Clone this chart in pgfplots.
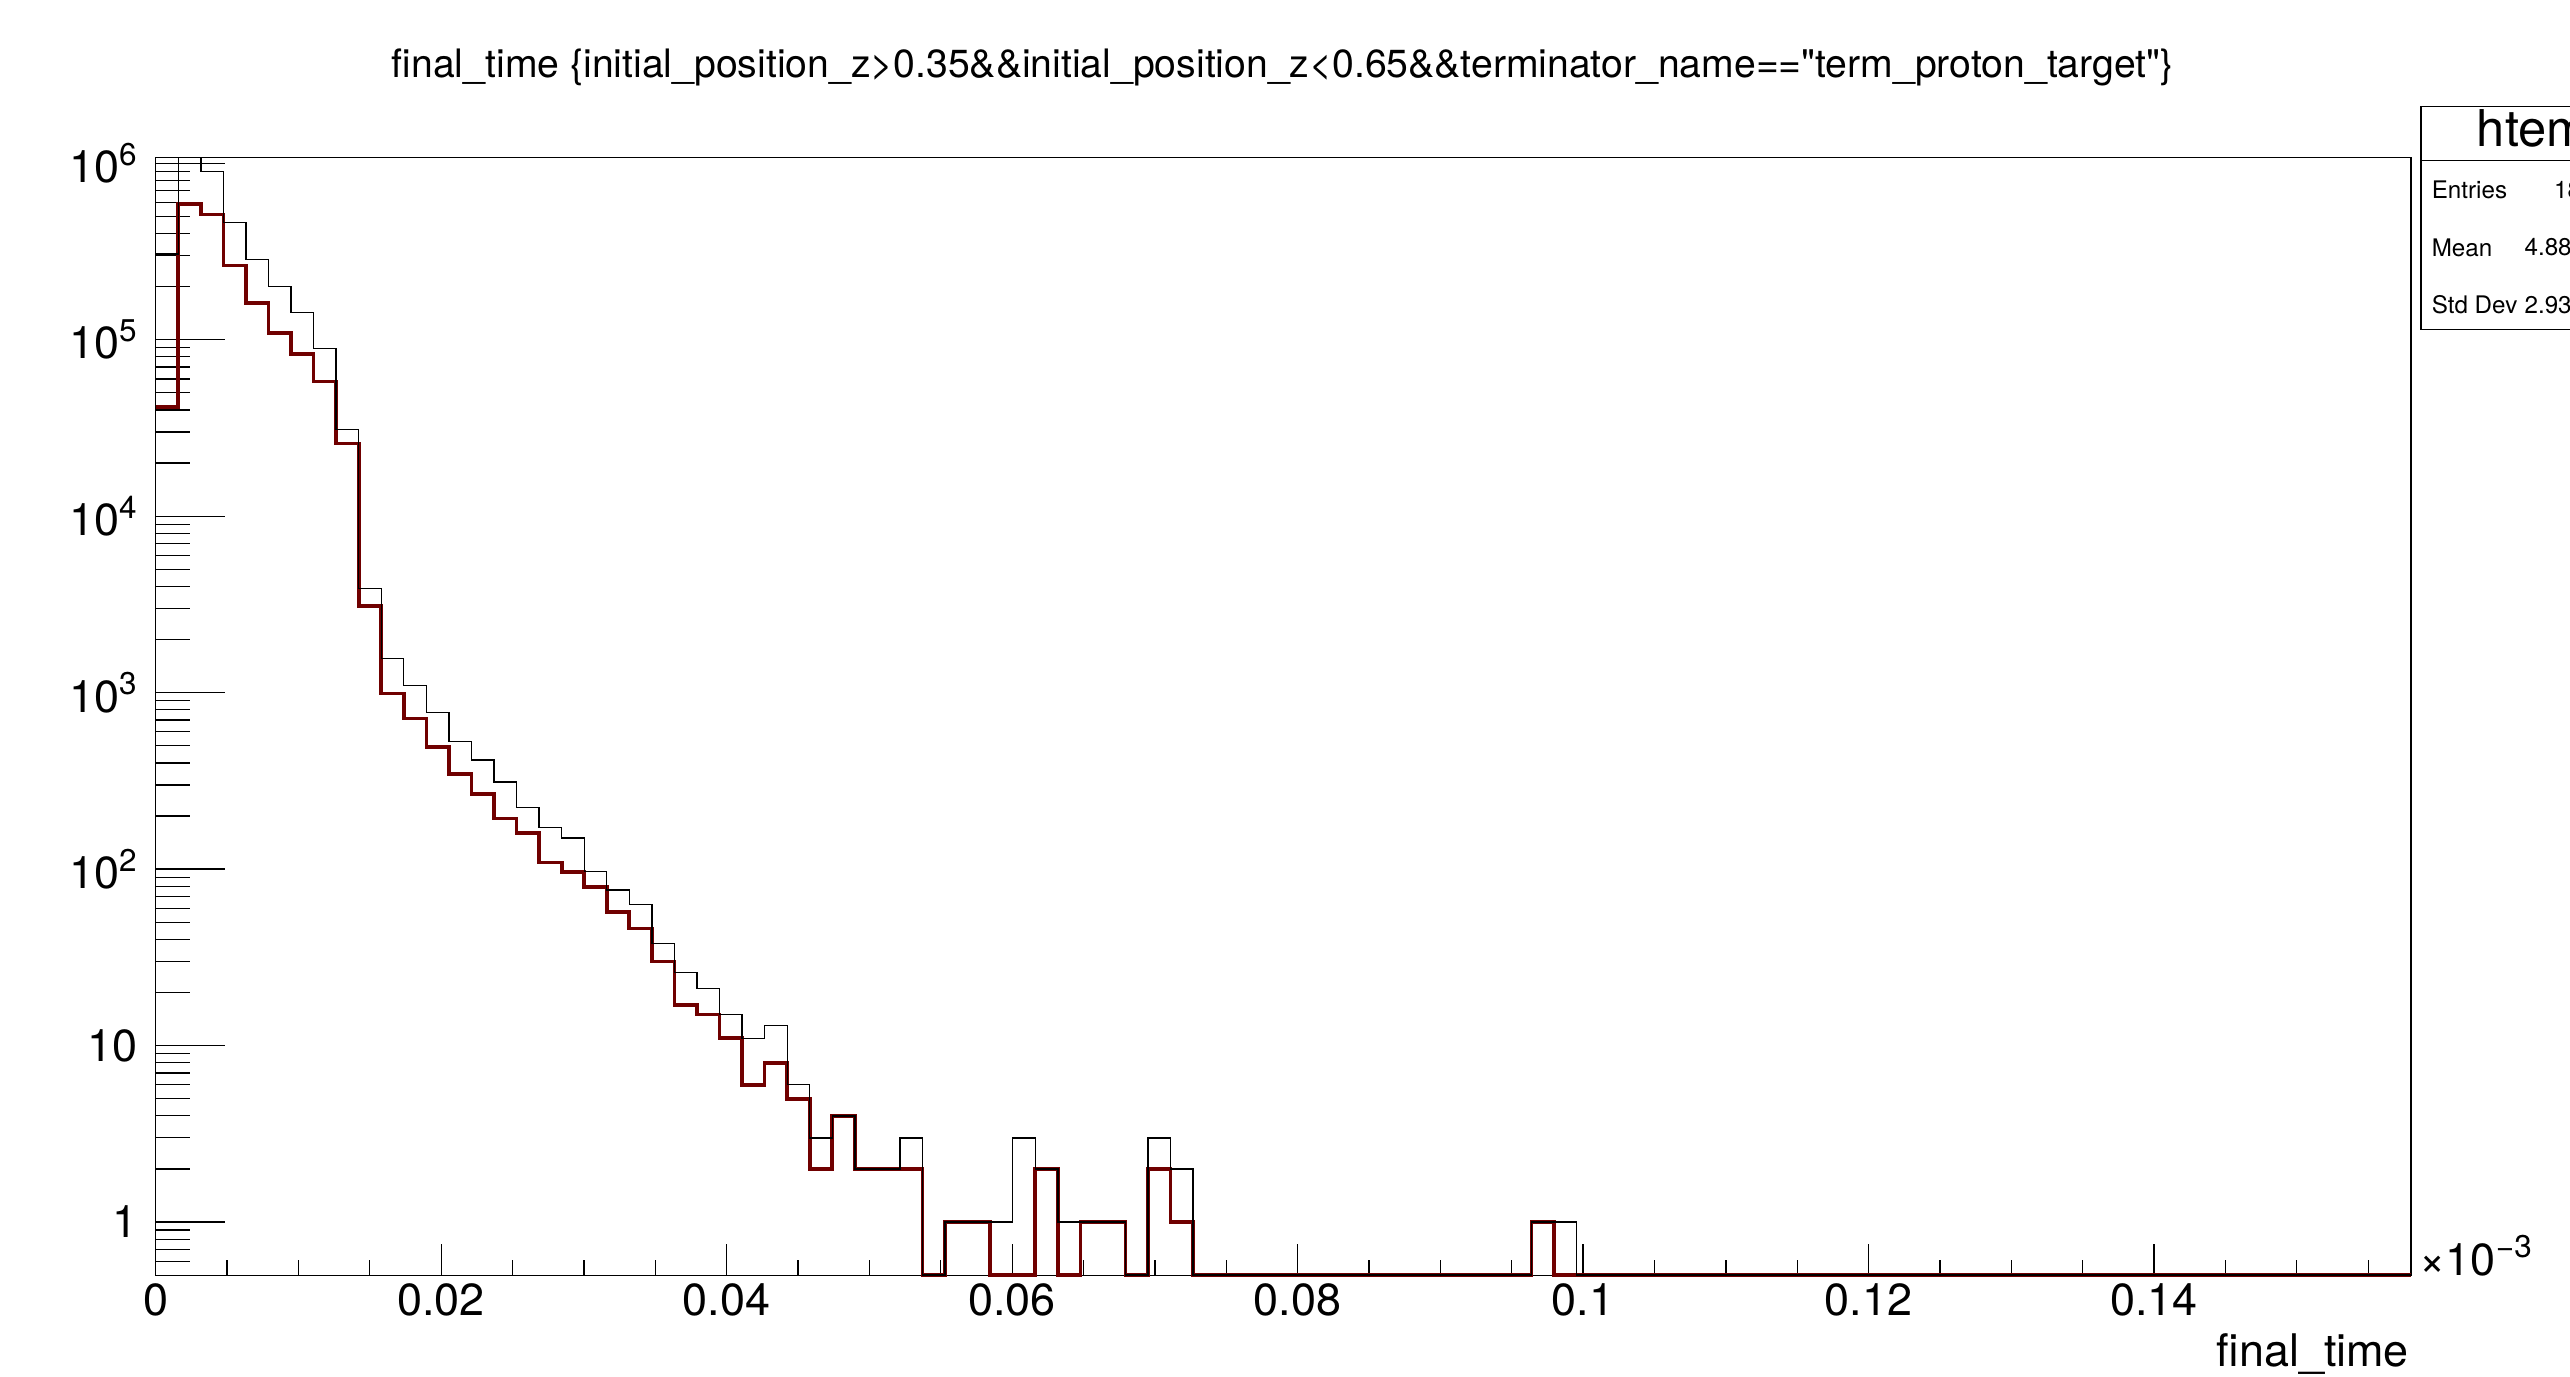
\documentclass[border=0pt]{standalone}
\usepackage{fontspec}
\setmainfont{TeX Gyre Heros}
\usepackage{pgfplots}
\pgfplotsset{compat=1.18}
\usepackage{pgfplotstable}

\definecolor{rootred}{RGB}{112,0,0}

% bin left edges (x 10^-3), counts per bin; empty bins are written as 0.5 (frame floor)
% and the one black bin above the frame as 1.08e6 (frame top), as ROOT draws them
\pgfplotstableread{
x        red     black
0        41500   306000
0.00158  588000  1080000
0.00316  513000  900000
0.00474  263000  462000
0.00632  161000  284000
0.0079   109000  200000
0.00948  83000   143000
0.01106  58000   89000
0.01264  25800   31000
0.01422  3100    3900
0.0158   990     1563
0.01738  715     1094
0.01896  490     773
0.02054  346     527
0.02212  267     416
0.0237   194     311
0.02528  160     224
0.02686  109     172
0.02844  96      150
0.03002  79      97
0.0316   57      76
0.03318  46      63
0.03476  30      38
0.03634  17      26
0.03792  15      21
0.0395   11      15
0.04108  6       11
0.04266  8       13
0.04424  5       6
0.04582  2       3
0.0474   4       4
0.04898  2       2
0.05056  2       2
0.05214  2       3
0.05372  0.5     0.5
0.0553   1       1
0.05688  1       1
0.05846  0.5     1
0.06004  0.5     3
0.06162  2       2
0.0632   0.5     1
0.06478  1       1
0.06636  1       1
0.06794  0.5     0.5
0.06952  2       3
0.0711   1       2
0.07268  0.5     0.5
0.09638  1       1
0.09796  0.5     1
0.09954  0.5     0.5
0.158    0.5     0.5
}\hist

\begin{document}
\begin{tikzpicture}
\useasboundingbox (-23.75mm,-15.5mm) rectangle (368.25mm,194.5mm);
\clip (-23.75mm,-15.5mm) rectangle (368.25mm,194.5mm);
\begin{axis}[
  at={(0,0)}, anchor=south west,
  scale only axis,
  width=344mm, height=170.5mm,
  ymode=log,
  xmin=0, xmax=0.158,
  ymin=0.5, ymax=1.08e6,
  clip=false,
  axis line style={black, line width=0.5pt},
  tick pos=left, tick align=inside,
  tick style={black, line width=0.55pt},
  xtick style={/pgfplots/major tick length=4.75mm, /pgfplots/minor tick length=2.25mm},
  ytick style={/pgfplots/major tick length=10.5mm, /pgfplots/minor tick length=5.25mm},
  xtick={0,0.02,0.04,0.06,0.08,0.1,0.12,0.14},
  xticklabels={0,0.02,0.04,0.06,0.08,0.1,0.12,0.14},
  minor xtick={0.005,0.01,0.015,0.025,0.03,0.035,0.045,0.05,0.055,0.065,0.07,0.075,
    0.085,0.09,0.095,0.105,0.11,0.115,0.125,0.13,0.135,0.145,0.15,0.155},
  ytick={1,10,100,1000,10000,100000,1000000},
  yticklabels={1,10,10\textsuperscript{2},10\textsuperscript{3},10\textsuperscript{4},10\textsuperscript{5},10\textsuperscript{6}},
  minor ytick={0.6,0.7,0.8,0.9,2,3,4,5,6,7,8,9,20,30,40,50,60,70,80,90,
    200,300,400,500,600,700,800,900,2000,3000,4000,5000,6000,7000,8000,9000,
    20000,30000,40000,50000,60000,70000,80000,90000,
    200000,300000,400000,500000,600000,700000,800000,900000},
  ticklabel style={font=\fontsize{19.5}{23}\selectfont},
  yticklabel style={xshift=-1.5mm},
  scaled ticks=false,
]
\addplot[const plot, rootred, line width=1.6pt] table[x=x, y=red] {\hist};
\addplot[const plot, black, line width=0.6pt] table[x=x, y=black] {\hist};
\end{axis}

% title
\node[anchor=base, font=\fontsize{17}{20}\selectfont, inner sep=0pt] at (171.9mm,182.75mm)
  {final\_time \{initial\_position\_z>0.35\&\&initial\_position\_z<0.65\&\&terminator\_name==\textquotedbl term\_proton\_target\textquotedbl\}};

% exponent and axis title
\node[anchor=base west, font=\fontsize{19.5}{23}\selectfont, inner sep=0pt] at (345.25mm,0mm)
  {×10\textsuperscript{−3}};
\node[anchor=base east, font=\fontsize{19.5}{23}\selectfont, inner sep=0pt] at (343.75mm,-14mm)
  {final\_time};

% stat box (cut by the page edge)
\draw[black, line width=0.6pt] (345.5mm,144.25mm) rectangle (384mm,178.25mm);
\draw[black, line width=0.6pt] (345.5mm,170mm) -- (384mm,170mm);
\node[font=\fontsize{22}{26}\selectfont, inner sep=0pt] at (364.75mm,174.1mm) {htemp};
\node[anchor=west, font=\fontsize{10.5}{12}\selectfont, inner sep=0pt] at (347.1mm,165.5mm) {Entries};
\node[anchor=west, font=\fontsize{10.5}{12}\selectfont, inner sep=0pt] at (365.75mm,165.5mm) {1841732};
\node[anchor=west, font=\fontsize{10.5}{12}\selectfont, inner sep=0pt] at (347.1mm,156.75mm) {Mean};
\node[anchor=west, font=\fontsize{10.5}{12}\selectfont, inner sep=0pt] at (361.25mm,156.75mm) {4.882e-06};
\node[anchor=west, font=\fontsize{10.5}{12}\selectfont, inner sep=0pt] at (347.1mm,148mm) {Std Dev};
\node[anchor=west, font=\fontsize{10.5}{12}\selectfont, inner sep=0pt] at (361.25mm,148mm) {2.931e-06};
\end{tikzpicture}
\end{document}
